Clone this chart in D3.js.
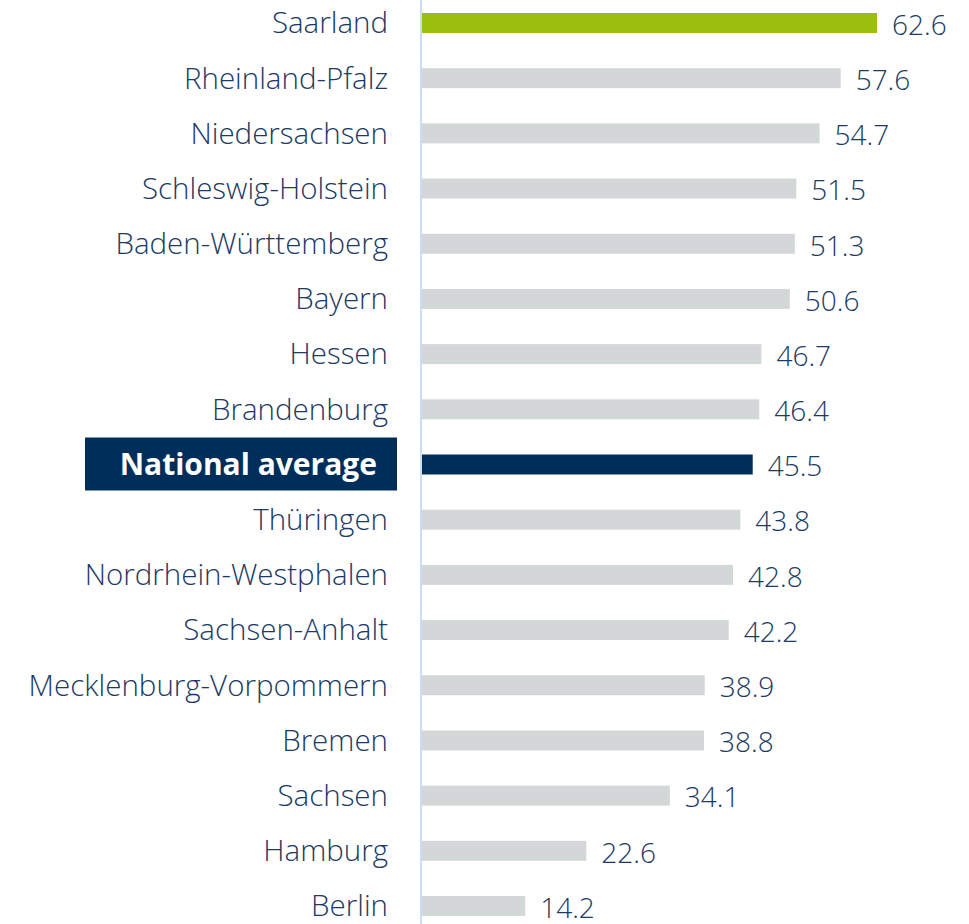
<!DOCTYPE html>
<meta charset="utf-8">
<head>
    <title>Bundesländer bar chart</title>
    <script src="https://d3js.org/d3.v7.min.js" charset="utf-8"></script>
    <style>
        html, body {
            margin: 0;
            padding: 0;
            background: #fff;
        }
        .label {
            font-family: "Open Sans", sans-serif;
            font-size: 29.5px;
            font-weight: 300;
            fill: #1c3a64;
        }
        .value {
            font-family: "Open Sans", sans-serif;
            font-size: 28px;
            font-weight: 300;
            fill: #1c3a64;
        }
        .avg-label {
            font-family: "Open Sans", sans-serif;
            font-size: 30px;
            font-weight: bold;
            fill: #fff;
        }
    </style>
</head>
<body>
<svg width="969" height="924"></svg>
<script>

// data
var states = ["Saarland", "Rheinland-Pfalz", "Niedersachsen", "Schleswig-Holstein",
    "Baden-Württemberg", "Bayern", "Hessen", "Brandenburg", "National average",
    "Thüringen", "Nordrhein-Westphalen", "Sachsen-Anhalt", "Mecklenburg-Vorpommern",
    "Bremen", "Sachsen", "Hamburg", "Berlin"];
var values = [62.6, 57.6, 54.7, 51.5, 51.3, 50.6, 46.7, 46.4, 45.5,
    43.8, 42.8, 42.2, 38.9, 38.8, 34.1, 22.6, 14.2];
var highlight = "Saarland";
var average = "National average";

var data = states.map((s, i) => ({name: s, value: values[i]}));

var svg = d3.select("svg");

var x = d3.scaleLinear().domain([0, 62.6]).range([422, 877]);
var y = d3.scalePoint().domain(states).range([23, 906]);
var barH = 20;

function barColor(d) {
    if (d.name === highlight) return "#9bbe0f";
    if (d.name === average) return "#002e5b";
    return "#d4d7d7";
}

// bars
svg.selectAll(".bar")
    .data(data)
    .enter().append("rect")
    .attr("class", "bar")
    .attr("x", x(0))
    .attr("y", d => y(d.name) - barH / 2)
    .attr("width", d => x(d.value) - x(0))
    .attr("height", barH)
    .attr("fill", barColor);

// vertical axis line
svg.append("line")
    .attr("x1", x(0) - 1).attr("x2", x(0) - 1)
    .attr("y1", 0).attr("y2", 924)
    .attr("stroke", "#c9def2")
    .attr("stroke-width", 2);

// average highlight box
svg.append("rect")
    .attr("x", 85)
    .attr("y", y(average) - 27)
    .attr("width", 312)
    .attr("height", 53)
    .attr("fill", "#002e5b");

// category labels
svg.selectAll(".label")
    .data(data)
    .enter().append("text")
    .attr("class", d => d.name === average ? "avg-label" : "label")
    .attr("x", d => d.name === average ? 377 : 388)
    .attr("y", d => y(d.name))
    .attr("dy", "0.35em")
    .attr("text-anchor", "end")
    .text(d => d.name);

// value labels
svg.selectAll(".value")
    .data(data)
    .enter().append("text")
    .attr("class", "value")
    .attr("x", d => x(d.value) + 15)
    .attr("y", d => y(d.name))
    .attr("dy", "0.42em")
    .text(d => d3.format(".1f")(d.value));

</script>
</body>
</html>
